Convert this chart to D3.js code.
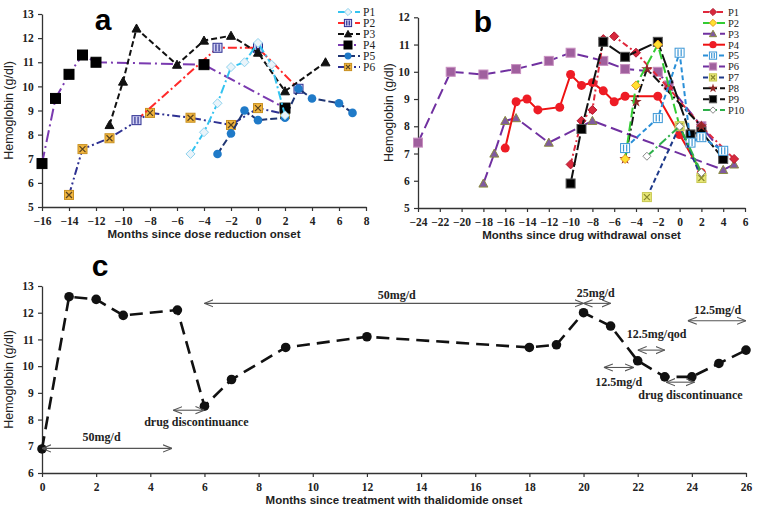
<!DOCTYPE html>
<html><head><meta charset="utf-8">
<script src="https://cdn.jsdelivr.net/npm/d3@7"></script>
<style>body{margin:0;background:#fff}svg{display:block}</style>
</head><body>
<svg id="c" width="758" height="519"></svg>
<script>
// ---------- DATA ----------
// Panel a: months since dose reduction onset
const aP1 = [[-5,7.2],[-4,8.1],[-3,9.3],[-2,10.8],[-1,11.0],[0,11.8],[1,10.9],[2,8.8]];
const aP2 = [[-9,8.6],[-3,11.6],[0,11.6],[3,9.9]];
const aP3 = [[-11,8.4],[-10,10.2],[-9,12.4],[-6,10.9],[-4,11.9],[-2,12.1],[0,11.4],[2,9.8],[5,11.0]];
const aP4 = [[-16,6.8],[-15,9.5],[-14,10.5],[-13,11.3],[-12,11.0],[-4,10.9],[2,9.1]];
const aP5 = [[-3,7.2],[-2,8.05],[-1,9.0],[0,8.6],[2,8.7],[3,9.9],[4,9.5],[6,9.3],[7,8.9]];
const aP6 = [[-14,5.5],[-13,7.4],[-11,7.85],[-8,8.9],[-5,8.7],[-2,8.4],[0,9.1],[2,8.85]];
// Panel b: months since drug withdrawal onset
const bP1 = [[-10,6.6],[-9,8.2],[-8,8.6],[-7,11.2],[-6,11.3],[-4,10.7],[-1,9.4],[2,8.0],[5,6.8]];
const bP2 = [[-5,6.8],[-4,9.5],[-2,11.0],[0,8.0],[2,6.2]];
const bP3 = [[-18,5.9],[-17,7.0],[-16,8.2],[-15,8.3],[-12,7.4],[-8,8.2],[4,6.4],[5,6.6]];
const bP4 = [[-16,7.2],[-15,8.9],[-14,9.0],[-13,8.6],[-11,8.7],[-10,9.9],[-9,9.5],[-8,9.6],[-7,9.3],[-6,8.9],[-5,9.1],[-2,9.1],[0,7.7],[2,6.3]];
const bP5 = [[-5,7.2],[-2,8.3],[0,10.7],[1,7.4],[2,7.6],[4,7.1]];
const bP6 = [[-24,7.4],[-21,10.0],[-18,9.9],[-15,10.1],[-12,10.4],[-10,10.7],[-7,10.4],[-5,10.1],[-2,10.0],[-1,9.5],[2,8.0],[4,7.0]];
const bP7 = [[-3,5.4],[0,8.0],[2,6.1]];
const bP8 = [[-5,6.8],[-4,8.9],[-3,10.1],[2,8.0]];
const bP9 = [[-10,5.9],[-9,7.9],[-7,11.1],[-5,10.55],[-2,11.1],[1,7.7],[2,7.8],[4,6.8]];
const bP10 = [[-3,6.9],[0,8.0],[2,6.3]];
// Panel c: months since treatment with thalidomide onset
const cMonths = [0,1,2,3,5,6,7,9,12,18,19,20,21,22,23,24,25,26];
const cHb     = [6.9,12.6,12.5,11.9,12.1,8.5,9.5,10.7,11.1,10.7,10.8,12.0,11.5,10.2,9.6,9.6,10.1,10.6];
// Panel c dosage annotations: [from month, to month, hb level, label, label month, label hb]
const cNotes = [
  [0,4.8,6.92,"50mg/d",2.2,7.35],
  [4.85,6,8.35,"drug discontinuance",5.7,7.9],
  [6,20,12.35,"50mg/d",13.1,12.65],
  [20,21,12.35,"25mg/d",20.45,12.75],
  [22,23,10.6,"12.5mg/qod",22.7,11.2],
  [20.75,21.85,9.95,"12.5mg/d",21.3,9.4],
  [23.05,24.1,9.4,"drug discontinuance",23.95,8.92],
  [23.85,26,11.7,"12.5mg/d",24.95,12.1]
];
const aXTicks = d3.range(-16,9,2), aYTicks = d3.range(5,14,1);
const bXTicks = d3.range(-24,7,2), bYTicks = d3.range(5,13,1);
const cXTicks = d3.range(0,27,2), cYTicks = d3.range(6,14,1);
const aNames = ["P1","P2","P3","P4","P5","P6"];
const bNames = ["P1","P2","P3","P4","P5","P6","P7","P8","P9","P10"];

// ---------- DRAW ----------
const svg = d3.select("#c");
const SERIF = "'Liberation Serif','Times New Roman',serif";
const SANS = "'Liberation Sans',Arial,sans-serif";

function marker(g, type, x, y, st) {
  const s = st.size || 4.5;
  if (type === "diamond") {
    g.append("path").attr("d", `M${x},${y-s}L${x+s},${y}L${x},${y+s}L${x-s},${y}Z`)
      .attr("fill", st.fill).attr("stroke", st.stroke).attr("stroke-width", st.sw||1);
  } else if (type === "square" || type === "barsq" || type === "xsq") {
    g.append("rect").attr("x", x-s).attr("y", y-s).attr("width", 2*s).attr("height", 2*s)
      .attr("fill", st.fill).attr("stroke", st.stroke).attr("stroke-width", st.sw||1);
    if (type === "barsq") {
      [-s*0.35, s*0.35].forEach(o => g.append("line").attr("x1", x+o).attr("x2", x+o)
        .attr("y1", y-s+1).attr("y2", y+s-1).attr("stroke", st.inner || st.stroke).attr("stroke-width", 1.2));
    }
    if (type === "xsq") {
      g.append("path").attr("d", `M${x-s+1.5},${y-s+1.5}L${x+s-1.5},${y+s-1.5}M${x+s-1.5},${y-s+1.5}L${x-s+1.5},${y+s-1.5}`)
        .attr("stroke", st.inner).attr("stroke-width", 1.3);
    }
  } else if (type === "triangle") {
    g.append("path").attr("d", `M${x},${y-s}L${x+s},${y+s*0.8}L${x-s},${y+s*0.8}Z`)
      .attr("fill", st.fill).attr("stroke", st.stroke).attr("stroke-width", st.sw||1);
  } else if (type === "circle") {
    g.append("circle").attr("cx", x).attr("cy", y).attr("r", s)
      .attr("fill", st.fill).attr("stroke", st.stroke||"none");
  } else if (type === "star") {
    g.append("path").attr("d", d3.symbol(d3.symbolStar, s*s*2)()).attr("transform", `translate(${x},${y})`)
      .attr("fill", st.fill).attr("stroke", st.stroke||"none");
  }
}

function axes(xs, ys, xt, yt, xTitle, yTitleX) {
  const g = svg.append("g");
  const gx = g.append("g").attr("transform", `translate(0,${ys.range()[0]})`)
    .call(d3.axisBottom(xs).tickValues(xt).tickSize(4).tickSizeOuter(0).tickFormat(d3.format("d")));
  const gy = g.append("g").attr("transform", `translate(${xs.range()[0]},0)`)
    .call(d3.axisLeft(ys).tickValues(yt).tickSize(4).tickSizeOuter(0).tickFormat(d3.format("d")));
  [gx, gy].forEach(a => {
    a.select(".domain").attr("stroke", "#333").attr("stroke-width", 1.3);
    a.selectAll(".tick line").attr("stroke", "#333").attr("stroke-width", 1.2);
    a.selectAll("text").attr("font-family", SERIF).attr("font-weight", "bold")
      .attr("font-size", 11.5).attr("fill", "#222");
  });
  gx.selectAll("text").attr("dy", "0.95em");
  gy.selectAll("text").attr("dx", "-0.1em");
  const xm = (xs.range()[0] + xs.range()[1]) / 2;
  g.append("text").attr("x", xm).attr("y", ys.range()[0] + 31).attr("text-anchor", "middle")
    .attr("font-family", SANS).attr("font-weight", "bold").attr("font-size", 11.5).attr("fill", "#222").text(xTitle);
  const ym = (ys.range()[0] + ys.range()[1]) / 2;
  g.append("text").attr("transform", `translate(${yTitleX},${ym}) rotate(-90)`).attr("text-anchor", "middle")
    .attr("font-family", SANS).attr("font-size", 12.5).attr("fill", "#222").text("Hemoglobin (g/dl)");
}

function series(xs, ys, data, st) {
  const g = svg.append("g");
  const line = d3.line().x(d => xs(d[0])).y(d => ys(d[1]));
  g.append("path").attr("d", line(data)).attr("fill", "none").attr("stroke", st.color)
    .attr("stroke-width", st.lw || 2).attr("stroke-dasharray", st.dash || null);
  data.forEach(d => marker(g, st.mk, xs(d[0]), ys(d[1]), st));
}

function legend(x0, y0, dy, names, styles, fs) {
  names.forEach((n, i) => {
    const st = styles[i], y = y0 + i*dy, g = svg.append("g");
    g.append("line").attr("x1", x0).attr("x2", x0+22).attr("y1", y).attr("y2", y)
      .attr("stroke", st.color).attr("stroke-width", st.lw||2).attr("stroke-dasharray", st.ldash || st.dash || null);
    marker(g, st.mk, x0+10, y, Object.assign({}, st, {size: (st.size||4.5)*0.8}));
    g.append("text").attr("x", x0+25).attr("y", y+3.8).attr("font-family", SERIF)
      .attr("font-size", fs).attr("fill", "#222").text(n);
  });
}

// ----- Panel a -----
const ax = d3.scaleLinear().domain([-16,8]).range([42,366]);
const ay = d3.scaleLinear().domain([5,13]).range([207,14]);
axes(ax, ay, aXTicks, aYTicks, "Months since dose reduction onset", 13);
const aStyles = [
  {color:"#33c3f0", dash:"9,3,2,3", mk:"diamond", fill:"#eaf4fa", stroke:"#8fd3ee", size:4.5},
  {color:"#ff2a2a", dash:"9,3,2,3", mk:"barsq", fill:"#d0d0f2", stroke:"#2e3092", inner:"#2e3092", size:4.5},
  {color:"#111", dash:"6,3", mk:"triangle", fill:"#111", stroke:"#111", size:4.5},
  {color:"#7a3ab0", dash:"12,4,2,4", mk:"square", fill:"#000", stroke:"#000", size:5},
  {color:"#1f3572", dash:"7,3", mk:"circle", fill:"#1f7ac8", size:4.3},
  {color:"#2e3192", dash:"8,3,2,3,2,3", mk:"xsq", fill:"#f2b640", stroke:"#c89020", inner:"#5a4420", size:4.5}
];
const aData = [aP1,aP2,aP3,aP4,aP5,aP6];
[5,1,4,3,2,0].forEach(i => series(ax, ay, aData[i], aStyles[i]));
legend(338, 12, 11, aNames, aStyles, 11.5);
svg.append("text").attr("x", 103).attr("y", 30).attr("text-anchor", "middle").attr("font-family", SANS)
  .attr("font-weight", "bold").attr("font-size", 30).text("a");

// ----- Panel b -----
const bx = d3.scaleLinear().domain([-24,6]).range([418,745]);
const by = d3.scaleLinear().domain([5,12]).range([208,17.3]);
axes(bx, by, bXTicks, bYTicks, "Months since drug withdrawal onset", 393);
const bStyles = [
  {color:"#e0283c", dash:"6,3,2,3", mk:"diamond", fill:"#d8283c", stroke:"#b01830", size:4.5},
  {color:"#33cc33", dash:"10,4", mk:"diamond", fill:"#ffe030", stroke:"#e89a20", size:4.5},
  {color:"#7030a0", dash:"12,5", mk:"triangle", fill:"#7f5aa0", stroke:"#8a8a40", size:4.5},
  {color:"#ee1111", dash:null, mk:"circle", fill:"#ee1c25", size:4.5},
  {color:"#2a8fd8", dash:"5,3", mk:"barsq", fill:"#fff", stroke:"#3a96d6", inner:"#3a96d6", size:4.5},
  {color:"#7030a0", dash:"11,5", mk:"square", fill:"#a0609e", stroke:"#c890c0", size:4.5},
  {color:"#1f3a8a", dash:"5,3", mk:"xsq", fill:"#e8e878", stroke:"#c8c850", inner:"#8a8a30", size:4.5},
  {color:"#111", dash:"9,3,2,3", mk:"star", fill:"#902828", size:4.5},
  {color:"#111", dash:"14,3", mk:"square", fill:"#000", stroke:"#555", size:4.5},
  {color:"#2db04a", dash:"9,3,2,3", mk:"diamond", fill:"#fff", stroke:"#888", size:4}
];
const bData = [bP1,bP2,bP3,bP4,bP5,bP6,bP7,bP8,bP9,bP10];
[5,2,3,0,8,7,1,4,6,9].forEach(i => series(bx, by, bData[i], bStyles[i]));
legend(703, 12, 10.9, bNames, bStyles, 10.5);
svg.append("text").attr("x", 483).attr("y", 32).attr("text-anchor", "middle").attr("font-family", SANS)
  .attr("font-weight", "bold").attr("font-size", 30).text("b");

// ----- Panel c -----
const cx = d3.scaleLinear().domain([0,26]).range([42,746]);
const cy = d3.scaleLinear().domain([6,13]).range([473,286]);
axes(cx, cy, cXTicks, cYTicks, "Months since treatment with thalidomide onset", 13);
const cData = cMonths.map((m, i) => [m, cHb[i]]);
series(cx, cy, cData, {color:"#111", dash:"13,7", lw:2.6, mk:"circle", fill:"#111", size:4.8});
svg.append("text").attr("x", 100).attr("y", 276).attr("text-anchor", "middle").attr("font-family", SANS)
  .attr("font-weight", "bold").attr("font-size", 30).text("c");

const defs = svg.append("defs");
defs.append("marker").attr("id", "ah").attr("viewBox", "0 0 10 10").attr("refX", 10).attr("refY", 5)
  .attr("markerWidth", 9).attr("markerHeight", 9).attr("orient", "auto-start-reverse").attr("markerUnits", "userSpaceOnUse")
  .append("path").attr("d", "M0,1L10,5L0,9").attr("fill", "none").attr("stroke", "#555").attr("stroke-width", 1.2);
cNotes.forEach(n => {
  const [m0, m1, hb, lab, lm, lh] = n;
  svg.append("line").attr("x1", cx(m0)).attr("x2", cx(m1)).attr("y1", cy(hb)).attr("y2", cy(hb))
    .attr("stroke", "#555").attr("stroke-width", 1.1)
    .attr("marker-start", "url(#ah)").attr("marker-end", "url(#ah)");
  svg.append("text").attr("x", cx(lm)).attr("y", cy(lh) + 4).attr("text-anchor", "middle")
    .attr("font-family", SERIF).attr("font-weight", "bold").attr("font-size", 12).attr("fill", "#222").text(lab);
});
</script>
</body></html>
